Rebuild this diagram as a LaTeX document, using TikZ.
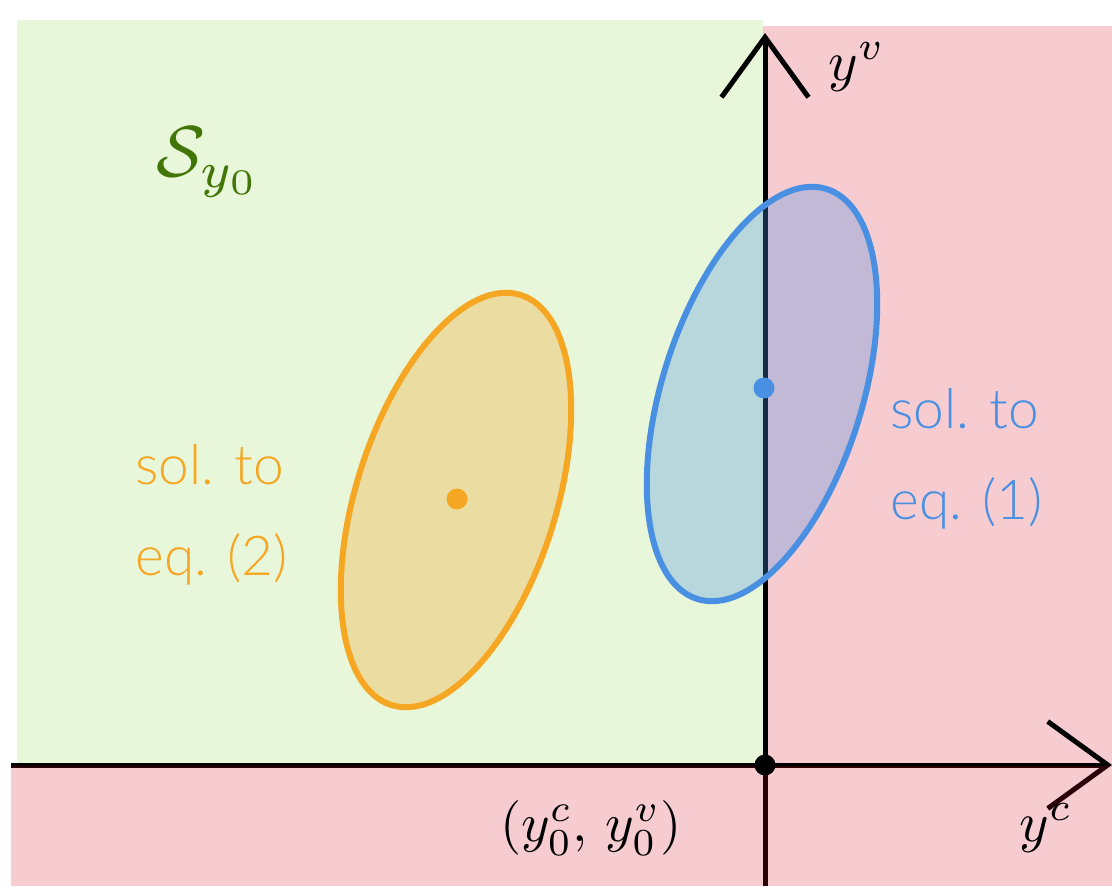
\documentclass[tikz,border=0pt]{standalone}
\usepackage{fontspec}
\usepackage{tikz}
\usetikzlibrary{positioning,arrows.meta}
\newfontfamily\solfont{Lato Light}
\definecolor{solblue}{HTML}{4A90E2}
\definecolor{solorange}{HTML}{F5A623}
\definecolor{grass}{HTML}{417505}
\definecolor{meadow}{HTML}{E8F6DA}
\definecolor{alarm}{HTML}{D0021B}

\begin{document}
\begin{tikzpicture}[x=0.02cm,y=0.02cm,
  axis/.style={line width=0.1cm,-{Straight Barb[length=1.2cm,width=1.74cm,line width=0.1cm]}},
  region/.style={fill=alarm,fill opacity=0.2},
  solset/.style={line width=0.12cm,fill opacity=0.3},
  dot/.style={circle,inner sep=0pt,minimum size=0.42cm},
  mathlbl/.style={scale=3.2},
  sollbl/.style={font=\solfont\fontsize{31.3}{52}\selectfont,align=left,anchor=west,inner sep=0pt}]
\useasboundingbox (0,0) rectangle (1112,886);
% regions
\fill[meadow] (17,121) rectangle (763,866);
\fill[region] (763,120) rectangle (1112,860);
% axes
\coordinate (o) at (765,121);
\coordinate (xl) at (11,121);
\coordinate (xr) at (1112,121);
\coordinate (yb) at (765,0);
\coordinate (yt) at (765,853);
\draw[axis] (xl) -- (xr);
\draw[axis] (yb) -- (yt);
\fill[region] (11,0) rectangle (1112,120);
% solution sets
\coordinate (c2) at (456,386);
\coordinate (c1) at (762,492);
\draw[solset,draw=solorange,fill=solorange,rotate around={-17.5:(c2)}] (c2) ellipse [x radius=2cm,y radius=4.3cm];
\draw[solset,draw=solblue,fill=solblue,rotate around={-17.5:(c1)}] (c1) ellipse [x radius=2cm,y radius=4.3cm];
\node[dot,fill=solorange] (d2) at (457,387) {};
\node[dot,fill=solblue] (d1) at (764,498) {};
\node[dot,fill=black] (o0) at (o) {};
% labels
\node[text=grass,scale=4.1] (s) at (209,724) {$\mathcal{S}_{y_0}$};
\node[mathlbl] (yv) at (857,819) {$y^v$};
\node[mathlbl] (yc) at (1046,58) {$y^c$};
\node[mathlbl,scale=0.97] (y0) at (591,58) {$(y_0^c,\, y_0^v)$};
\node[sollbl,text=solorange] (l2) at (135,371) {sol. to\\eq. (2)};
\node[sollbl,text=solblue] (l1) at (890,427) {sol. to\\eq. (1)};
\end{tikzpicture}
\end{document}
